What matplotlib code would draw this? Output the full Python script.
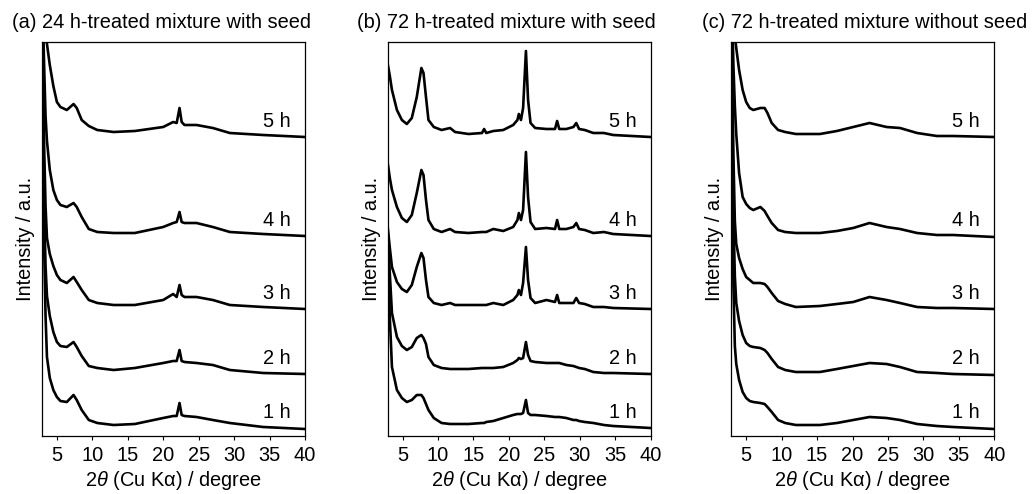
import matplotlib
matplotlib.use("Agg")
import matplotlib.pyplot as plt

plt.rcParams['font.family'] = ['Liberation Sans', 'DejaVu Sans']
plt.rcParams['mathtext.fontset'] = 'custom'
plt.rcParams['mathtext.rm'] = 'Liberation Sans'
plt.rcParams['mathtext.it'] = 'Liberation Sans:italic'

# intensity in a.u. (stacked, offsets included)
hours = ["1 h", "2 h", "3 h", "4 h", "5 h"]
titles = ["(a) 24 h-treated mixture with seed",
          "(b) 72 h-treated mixture with seed",
          "(c) 72 h-treated mixture without seed"]

# (a) 24 h-treated mixture with seed
theta_a = [2.9, 3.2, 3.4, 3.6, 4.0, 4.5, 5.0, 5.5, 6.4, 7.35, 7.8, 8.5, 9.5, 10.7, 13.0,
           16.0, 20.0, 21.4, 21.9, 22.3, 22.6, 23.0, 24.7, 27.0, 29.4, 34.1, 40.0]
a_5h = [480, 440, 410, 392, 371, 350, 334, 329, 326, 332, 328, 316, 310, 306, 304,
        305, 309, 314, 313, 328, 314, 311, 311, 308, 303, 301, 299]
a_4h = [460, 370, 320, 295, 266, 246, 236, 231, 229, 233, 229, 219, 207, 204, 203,
        203, 209, 213, 214, 224, 214, 213, 213, 209, 204, 202, 200]
a_3h = [430, 290, 230, 198, 182, 170, 161, 156, 153, 159, 154, 146, 136, 133, 131,
        131, 136, 142, 139, 151, 141, 139, 139, 136, 131, 129, 127]
a_2h = [420, 230, 170, 140, 120, 104, 94, 90, 89, 94, 89, 80, 70, 68, 66,
        68, 73, 75, 75, 86, 75, 74, 73, 71, 66, 63, 62]
a_1h = [410, 190, 120, 79, 58, 46, 39, 35, 34, 41, 36, 26, 16, 13, 11,
        12, 18, 20, 20, 33, 21, 20, 19, 16, 13, 9, 7]

# (b) 72 h-treated mixture with seed
theta_b = [2.9, 3.2, 3.5, 4.2, 4.9, 5.6, 6.3, 7.0, 7.65, 7.95, 8.3, 8.65, 9.4, 10.5, 11.7,
           12.4, 14.3, 16.2, 16.5, 16.8, 17.8, 19.2, 20.6, 21.2, 21.4, 21.7, 22.0, 22.4,
           22.7, 23.05, 23.7, 25.3, 26.5, 26.8, 27.1, 28.1, 29.1, 29.5, 29.9, 30.7, 31.9,
           33.4, 34.7, 40.0]
b_5h = [372, 360, 346, 326, 316, 312, 318, 339, 368, 363, 339, 316, 309, 306, 308,
        304, 302, 303, 307, 303, 305, 306, 311, 316, 322, 316, 328, 385,
        336, 313, 308, 307, 307, 315, 307, 307, 309, 313, 307, 306, 303,
        303, 301, 299]
b_4h = [273, 258, 246, 229, 218, 214, 221, 243, 266, 261, 236, 216, 207, 204, 207,
        204, 203, 204, 204, 204, 207, 205, 209, 216, 223, 216, 226, 284,
        239, 214, 207, 208, 207, 216, 207, 207, 209, 213, 207, 206, 203,
        204, 202, 200]
b_3h = [209, 188, 169, 154, 147, 144, 151, 169, 183, 178, 156, 139, 133, 131, 133,
        131, 131, 131, 131, 131, 133, 131, 136, 141, 146, 141, 153, 189,
        156, 138, 133, 136, 134, 141, 133, 133, 133, 138, 133, 132, 129,
        129, 128, 127]
b_2h = [205, 162, 123, 99, 90, 86, 89, 98, 101, 98, 92, 79, 71, 68, 67,
        67, 67, 68, 68, 68, 68, 69, 73, 76, 78, 77, 78, 94,
        81, 75, 74, 73, 73, 73, 73, 71, 70, 69, 68, 67, 64,
        63, 63, 62]
b_1h = [195, 118, 69, 46, 38, 34, 36, 41, 41, 38, 32, 26, 18, 13, 12,
        12, 12, 13, 13, 14, 15, 18, 21, 22, 22, 22, 23, 36,
        23, 21, 21, 20, 19, 19, 19, 18, 16, 16, 15, 14, 13,
        11, 10, 8]

# (c) 72 h-treated mixture without seed
theta_c = [2.9, 3.2, 3.4, 3.6, 4.0, 4.5, 5.0, 5.5, 6.0, 7.0, 7.6, 8.0, 8.6, 9.5, 10.5,
           12.0, 15.4, 17.8, 20.1, 22.4, 24.8, 26.7, 29.1, 31.9, 34.2, 40.0]
c_5h = [480, 440, 400, 388, 366, 346, 334, 328, 326, 328, 328, 323, 313, 306, 304,
        302, 302, 305, 309, 313, 309, 308, 303, 300, 300, 299]
c_4h = [460, 370, 330, 302, 263, 239, 232, 228, 226, 229, 225, 220, 213, 206, 204,
        203, 203, 205, 208, 213, 209, 207, 203, 201, 201, 199]
c_3h = [430, 280, 215, 192, 178, 167, 159, 156, 153, 153, 152, 149, 143, 135, 132,
        129, 130, 132, 134, 139, 136, 133, 129, 128, 128, 127]
c_2h = [420, 220, 160, 133, 115, 101, 93, 90, 89, 88, 86, 83, 77, 69, 66,
        64, 64, 67, 70, 73, 72, 69, 64, 63, 62, 61]
c_1h = [410, 150, 90, 72, 56, 44, 38, 35, 34, 33, 32, 29, 24, 16, 13,
        11, 11, 13, 16, 19, 18, 16, 12, 10, 9, 7]

panels = [
    (theta_a, [a_1h, a_2h, a_3h, a_4h, a_5h]),
    (theta_b, [b_1h, b_2h, b_3h, b_4h, b_5h]),
    (theta_c, [c_1h, c_2h, c_3h, c_4h, c_5h]),
]

W, H = 1033, 494
fig = plt.figure(figsize=(W / 100, H / 100), dpi=100)

ax_left = [42, 387.7, 731.3]
title_x = [12, 357, 702]
label_y = [24, 78, 143, 216, 315]
fs = 14.4

for i, (theta, curves) in enumerate(panels):
    ax = fig.add_axes([ax_left[i] / W, 58 / H, 263 / W, 394 / H])
    for y in curves:
        ax.plot(theta, y, color="black", lw=1.9, solid_joinstyle="round")
    for lab, ly in zip(hours, label_y):
        ax.text(38.0, ly, lab, ha="right", va="center", fontsize=fs)
    ax.set_xlim(2.9, 40)
    ax.set_ylim(0, 394)
    ax.set_yticks([])
    ax.set_xticks(range(5, 41, 5))
    ax.tick_params(axis="x", direction="out", length=3, width=0.8, labelsize=fs, pad=4)
    for s in ax.spines.values():
        s.set_linewidth(0.9)
    ax.set_xlabel(r"2$\mathit{\theta}$ (Cu K$\mathrm{\alpha}$) / degree", fontsize=fs, labelpad=3)
    ax.set_ylabel("Intensity / a.u.", fontsize=fs, labelpad=5)
    fig.text(title_x[i] / W, 1 - 23 / H, titles[i], ha="left", va="center", fontsize=fs)

fig.savefig("out.png", dpi=100)
